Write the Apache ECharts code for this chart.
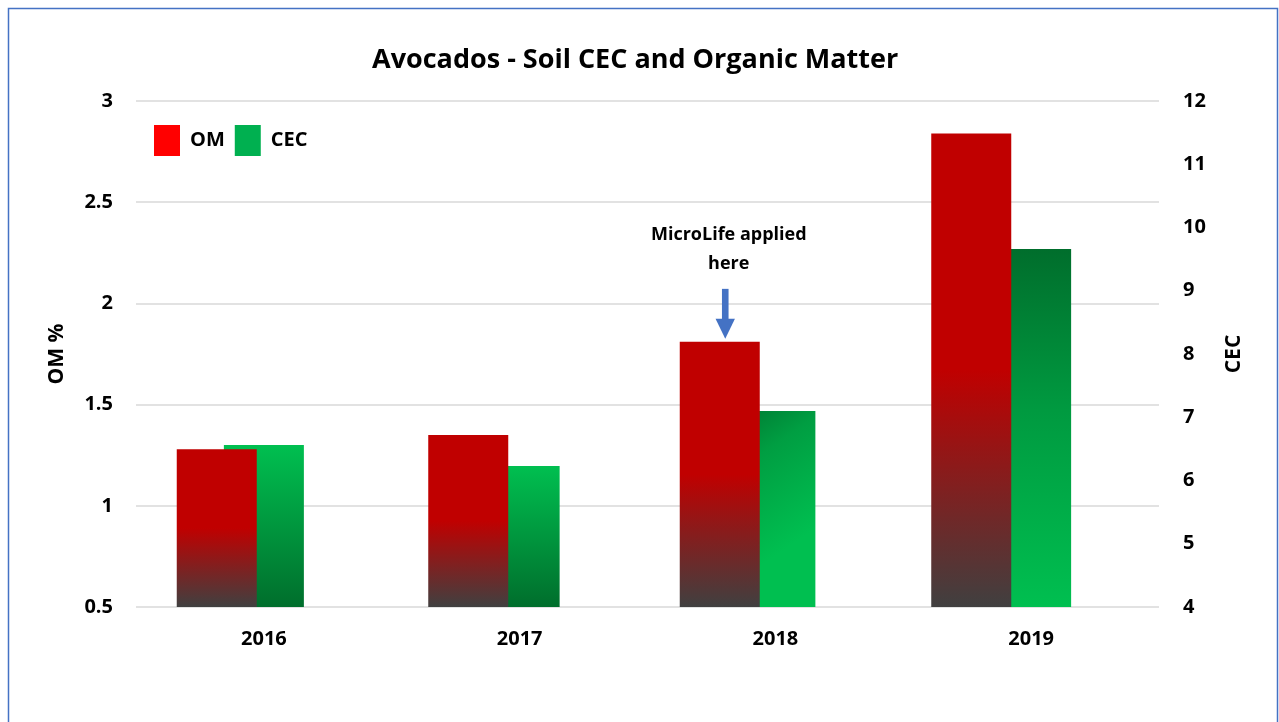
<!DOCTYPE html>
<html>
<head>
<meta charset="utf-8">
<script src="https://cdn.jsdelivr.net/npm/echarts@6/dist/echarts.min.js"></script>
<style>
  html, body { margin: 0; padding: 0; background: #fff; }
  #chart { width: 1279px; height: 722px; }
</style>
</head>
<body>
<div id="chart"></div>
<script>
// values
const years = ['2016', '2017', '2018', '2019'];
const omValues = [1.28, 1.35, 1.81, 2.84];   // left axis, OM %
const cecValues = [6.56, 6.23, 7.10, 9.66];  // right axis, CEC

const FONT = '"Open Sans", sans-serif';
const RED = '#C00000';
const GREY = '#404040';
const GREEN_LIGHT = '#00BF50';
const GREEN_DARK = '#006E2C';

const omFill = new echarts.graphic.LinearGradient(0, 0, 0, 1, [
  { offset: 0, color: RED },
  { offset: 0.5, color: RED },
  { offset: 1, color: GREY }
]);

// CEC bars: first two go light->dark, 2018 diagonal, 2019 dark->light
const cecFills = [
  new echarts.graphic.LinearGradient(0, 0, 0, 1, [
    { offset: 0, color: GREEN_LIGHT }, { offset: 1, color: GREEN_DARK }]),
  new echarts.graphic.LinearGradient(0, 0, 0, 1, [
    { offset: 0, color: GREEN_LIGHT }, { offset: 1, color: GREEN_DARK }]),
  new echarts.graphic.LinearGradient(0, 0, 1, 0.6, [
    { offset: 0, color: '#007A32' }, { offset: 0.35, color: '#009E42' }, { offset: 1, color: GREEN_LIGHT }]),
  new echarts.graphic.LinearGradient(0, 0, 0, 1, [
    { offset: 0, color: GREEN_DARK }, { offset: 0.45, color: '#009A40' }, { offset: 1, color: GREEN_LIGHT }])
];

const chart = echarts.init(document.getElementById('chart'));

const bold = (size) => ({ color: '#000', fontFamily: FONT, fontWeight: 'bold', fontSize: size });

chart.setOption({
  backgroundColor: '#fff',
  animation: false,
  title: {
    text: 'Avocados - Soil CEC and Organic Matter',
    left: 367,
    top: 42,
    textStyle: bold(27)
  },
  legend: {
    data: [
      { name: 'OM', itemStyle: { color: '#FF0000' } },
      { name: 'CEC', itemStyle: { color: '#00B050' } }
    ],
    left: 154,
    top: 125,
    padding: 0,
    itemWidth: 26,
    itemHeight: 31,
    itemGap: 10,
    icon: 'rect',
    textStyle: Object.assign(bold(20), { padding: [0, 0, 0, 5] })
  },
  // grid 0 holds the visible axes and CEC; grid 1 is a slightly narrower band for OM,
  // which Excel drew shifted left of the category centres
  grid: [
    { left: 136, right: 120, top: 101, bottom: 115 },
    { left: 91, right: 182, top: 101, bottom: 115 }
  ],
  xAxis: [
    {
      type: 'category',
      gridIndex: 0,
      data: years,
      axisLine: { show: false },
      axisTick: { show: false },
      axisLabel: Object.assign({ margin: 22 }, bold(20))
    },
    { type: 'category', gridIndex: 1, data: years, show: false }
  ],
  yAxis: [
    {
      type: 'value',
      gridIndex: 0,
      min: 0.5,
      max: 3,
      interval: 0.5,
      name: 'OM %',
      nameLocation: 'middle',
      nameRotate: 90,
      nameGap: 68,
      nameTextStyle: bold(21),
      axisLine: { show: false },
      axisTick: { show: false },
      axisLabel: Object.assign({ margin: 23 }, bold(20)),
      splitLine: { lineStyle: { color: '#D9D9D9', width: 1.5 } }
    },
    {
      type: 'value',
      gridIndex: 0,
      min: 4,
      max: 12,
      interval: 1,
      name: 'CEC',
      nameLocation: 'middle',
      nameRotate: 90,
      nameGap: 65,
      nameTextStyle: bold(21),
      axisLine: { show: false },
      axisTick: { show: false },
      axisLabel: Object.assign({ margin: 24 }, bold(20)),
      splitLine: { show: false }
    },
    { type: 'value', gridIndex: 1, min: 0.5, max: 3, interval: 0.5, show: false }
  ],
  series: [
    {
      name: 'OM',
      type: 'bar',
      xAxisIndex: 1,
      yAxisIndex: 2,
      barWidth: 80,
      z: 3,
      itemStyle: { color: omFill },
      data: omValues
    },
    {
      name: 'CEC',
      type: 'bar',
      xAxisIndex: 0,
      yAxisIndex: 1,
      barWidth: 80,
      z: 2,
      itemStyle: { color: '#00B050' },
      data: cecValues.map((v, i) => ({ value: v, itemStyle: { color: cecFills[i] } }))
    }
  ]
});

// annotation above the 2018 OM bar, placed from that bar's layout
const lay = chart.getModel().getSeriesByIndex(0).getData().getItemLayout(2);
const cx = lay.x + lay.width / 2 + 5.5;
const tip = Math.min(lay.y, lay.y + lay.height) - 3;
chart.setOption({
  graphic: [
    {
      type: 'rect',
      silent: true,
      shape: { x: 8.5, y: 8.5, width: 1269, height: 900 },
      style: { fill: null, stroke: '#4472C4', lineWidth: 1.5 }
    },
    {
      type: 'rect',
      silent: true,
      shape: { x: cx - 3.3, y: tip - 50, width: 6.6, height: 32 },
      style: { fill: '#4472C4' }
    },
    {
      type: 'polygon',
      silent: true,
      shape: { points: [[cx - 9.7, tip - 20], [cx + 9.7, tip - 20], [cx, tip]] },
      style: { fill: '#4472C4' }
    },
    {
      type: 'text',
      silent: true,
      x: cx + 3.5,
      y: tip - 118,
      style: {
        text: 'MicroLife applied\nhere',
        fill: '#000',
        font: 'bold 18px ' + FONT,
        align: 'center',
        verticalAlign: 'top',
        lineHeight: 29
      }
    }
  ]
});
</script>
</body>
</html>
